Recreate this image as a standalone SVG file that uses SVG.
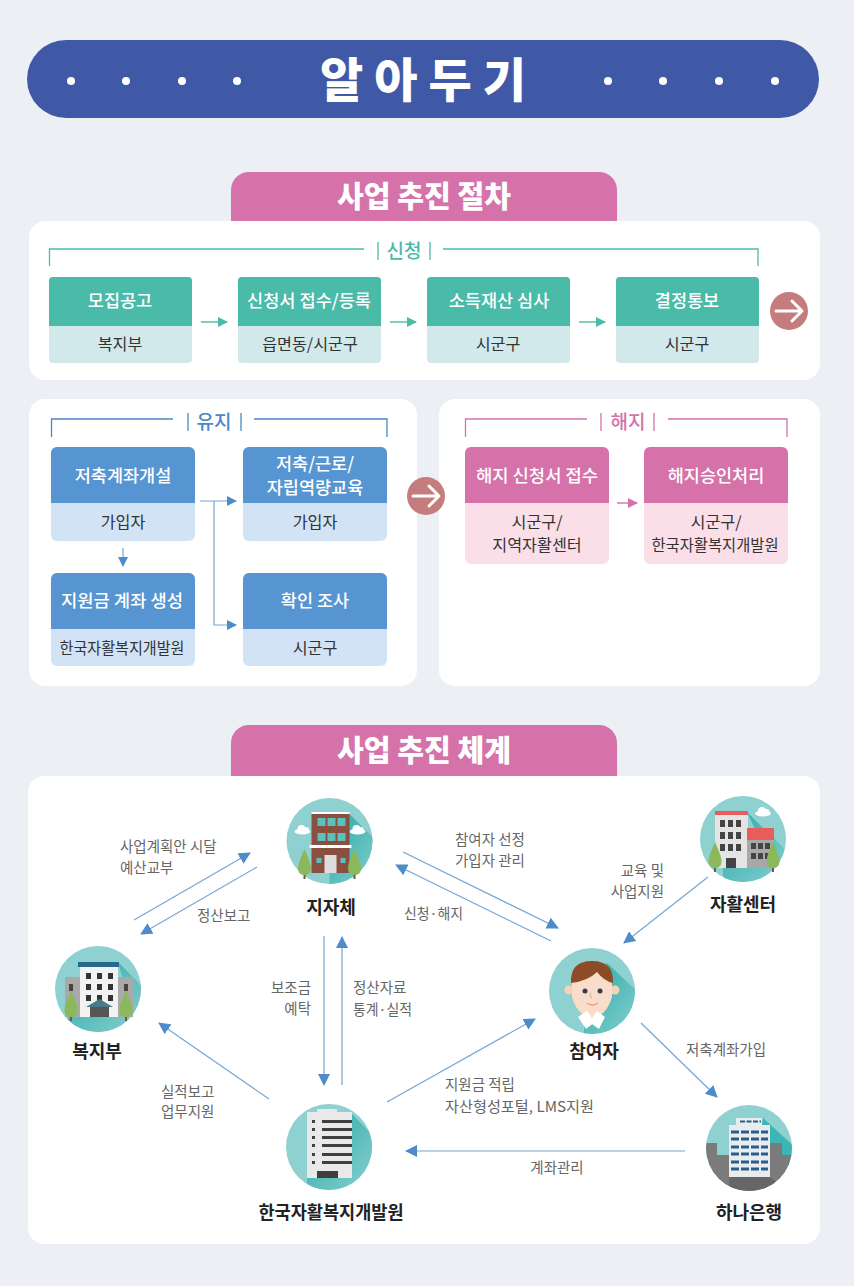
<svg xmlns="http://www.w3.org/2000/svg" width="854" height="1286" viewBox="0 0 854 1286">
<style>
text{font-family:"Noto Sans CJK KR","Noto Sans",sans-serif;text-anchor:middle}
.panel{fill:#fff}
.tab{fill:#d472a9}
.tabt{font-size:29.500px;font-weight:900;fill:#fff}
.head{font-size:17.500px;font-weight:500;fill:#fff}
.sub{font-size:16.200px;fill:#333}
.brk{fill:none;stroke-width:1.3}
.bt{font-size:19px;font-weight:500}
.lab{font-size:14.500px;fill:#666;text-anchor:start}
.labe{font-size:14.500px;fill:#666;text-anchor:end}
.labm{font-size:14.500px;fill:#666}
.name{font-size:18px;font-weight:700;fill:#222}
.c{fill:#8fd0d1}
.go{fill:#c47d7c}
.goa{fill:none;stroke:#fff;stroke-width:3;stroke-linecap:round;stroke-linejoin:round}
.dl{stroke:#74a5d6;stroke-width:1.200;fill:none}
.tr{fill:#8cb85c}
.trk{fill:#6b5a48}
</style>
<defs>
<marker id="mb" viewBox="0 0 12 12" refX="11" refY="6" markerWidth="12" markerHeight="12" markerUnits="userSpaceOnUse" orient="auto"><path d="M0 0L12 6L0 12z" fill="#4d8cc9"/></marker>
<marker id="mbs" viewBox="0 0 10 10" refX="9" refY="5" markerWidth="10" markerHeight="10" markerUnits="userSpaceOnUse" orient="auto"><path d="M0 0L10 5L0 10z" fill="#4d8cc9"/></marker>
<marker id="mt" viewBox="0 0 10 10" refX="9" refY="5" markerWidth="10" markerHeight="10" markerUnits="userSpaceOnUse" orient="auto"><path d="M0 0L10 5L0 10z" fill="#4abaa9"/></marker>
<marker id="mp" viewBox="0 0 10 10" refX="9" refY="5" markerWidth="10" markerHeight="10" markerUnits="userSpaceOnUse" orient="auto"><path d="M0 0L10 5L0 10z" fill="#d472a9"/></marker>
<linearGradient id="sh" x1="0" y1="0" x2="1" y2="1"><stop offset="0" stop-color="#27aaa8"/><stop offset="1" stop-color="#a0d8d8"/></linearGradient>
<clipPath id="cc"><circle r="43"/></clipPath>
<g id="tree"><rect x="-1" y="4" width="2" height="14" class="trk"/><path d="M0 -12Q7 3 6.500 8Q6 14 0 14Q-6 14 -6.500 8Q-7 3 0 -12z" class="tr"/></g>
<g id="cloud"><ellipse cx="0" cy="1.500" rx="8" ry="3" fill="#fff"/><circle cx="-1" cy="-1" r="4" fill="#fff"/><circle cx="3.500" cy="0" r="3" fill="#fff"/></g>
</defs>
<rect width="854" height="1286" fill="#ecf0f4"/>

<g id="banner">
<rect x="27" y="40" width="792" height="78" rx="39" fill="#4059a6"/>
<g fill="#fff"><circle cx="71" cy="81" r="4"/><circle cx="126" cy="81" r="4"/><circle cx="182" cy="81" r="4"/><circle cx="237" cy="81" r="4"/><circle cx="608" cy="81" r="4"/><circle cx="663" cy="81" r="4"/><circle cx="719" cy="81" r="4"/><circle cx="775" cy="81" r="4"/></g>
<text x="423" y="97" font-size="47" font-weight="900" fill="#fff" textLength="206" lengthAdjust="spacing">알 아 두 기</text>
</g>

<g id="tab-procedure"><path class="tab" d="M231 221V190a18 18 0 0 1 18-18H599a18 18 0 0 1 18 18V221z"/><text class="tabt" x="424" y="207" textLength="174" lengthAdjust="spacingAndGlyphs">사업 추진 절차</text></g>
<rect class="panel" x="29" y="221" width="791" height="159" rx="16"/>
<rect class="panel" x="29" y="399" width="388" height="287" rx="16"/>
<rect class="panel" x="439" y="399" width="381" height="287" rx="16"/>

<g id="bracket-apply" stroke="#4abaa9" fill="#4abaa9">
<path class="brk" d="M49.500 266V249H364M443 249H758V266M378 242V260M430 242V260"/>
<text class="bt" x="404" y="258" stroke="none">신청</text></g>
<g id="n-apply1"><rect x="49" y="277" width="143" height="86" rx="4" fill="#d2e9ec"/><path d="M49 326V281a4 4 0 0 1 4-4H188a4 4 0 0 1 4 4V326z" fill="#4abaa9"/><text class="head" x="120" y="307">모집공고</text><text class="sub" x="120" y="350">복지부</text></g>
<g id="n-apply2"><rect x="238" y="277" width="143" height="86" rx="4" fill="#d2e9ec"/><path d="M238 326V281a4 4 0 0 1 4-4H377a4 4 0 0 1 4 4V326z" fill="#4abaa9"/><text class="head" x="309" y="307" textLength="124" lengthAdjust="spacingAndGlyphs">신청서 접수/등록</text><text class="sub" x="310" y="350">읍면동/시군구</text></g>
<g id="n-apply3"><rect x="427" y="277" width="143" height="86" rx="4" fill="#d2e9ec"/><path d="M427 326V281a4 4 0 0 1 4-4H566a4 4 0 0 1 4 4V326z" fill="#4abaa9"/><text class="head" x="499" y="307">소득재산 심사</text><text class="sub" x="498" y="350">시군구</text></g>
<g id="n-apply4"><rect x="616" y="277" width="143" height="86" rx="4" fill="#d2e9ec"/><path d="M616 326V281a4 4 0 0 1 4-4H755a4 4 0 0 1 4 4V326z" fill="#4abaa9"/><text class="head" x="687" y="307">결정통보</text><text class="sub" x="687" y="350">시군구</text></g>
<g id="go1"><circle class="go" cx="789" cy="311" r="19"/><path class="goa" d="M776 311H801M792 301L802 311L792 321"/></g>

<g id="bracket-keep" stroke="#4a88c7" fill="#4a88c7">
<path class="brk" d="M51.500 437V419H173M254 419H387V437M188 413V431M241 413V431"/>
<text class="bt" x="214" y="429" stroke="none">유지</text></g>
<g id="n-keep1"><rect x="51" y="447" width="144" height="94" rx="6" fill="#d2e3f5"/><path d="M51 503V453a6 6 0 0 1 6-6H189a6 6 0 0 1 6 6V503z" fill="#5795d2"/><text class="head" x="123" y="482">저축계좌개설</text><text class="sub" x="123" y="528">가입자</text></g>
<g id="n-keep2"><rect x="243" y="447" width="144" height="94" rx="6" fill="#d2e3f5"/><path d="M243 503V453a6 6 0 0 1 6-6H381a6 6 0 0 1 6 6V503z" fill="#5795d2"/><text class="head" x="315" y="470">저축/근로/</text><text class="head" x="315" y="494">자립역량교육</text><text class="sub" x="315" y="528">가입자</text></g>
<g id="n-keep3"><rect x="51" y="573" width="144" height="93" rx="6" fill="#d2e3f5"/><path d="M51 629V579a6 6 0 0 1 6-6H189a6 6 0 0 1 6 6V629z" fill="#5795d2"/><text class="head" x="122" y="607" textLength="122" lengthAdjust="spacingAndGlyphs">지원금 계좌 생성</text><text class="sub" x="122" y="654" textLength="125" lengthAdjust="spacingAndGlyphs">한국자활복지개발원</text></g>
<g id="n-keep4"><rect x="243" y="573" width="144" height="93" rx="6" fill="#d2e3f5"/><path d="M243 629V579a6 6 0 0 1 6-6H381a6 6 0 0 1 6 6V629z" fill="#5795d2"/><text class="head" x="315" y="607">확인 조사</text><text class="sub" x="315" y="654">시군구</text></g>
<g id="go2"><circle class="go" cx="426" cy="496" r="19"/><path class="goa" d="M413 496H438M429 486L439 496L429 506"/></g>

<g id="bracket-end" stroke="#d472a9" fill="#d472a9">
<path class="brk" d="M465.500 437V419H587M668 419H787V437M601 413V431M654 413V431"/>
<text class="bt" x="628" y="429" stroke="none">해지</text></g>
<g id="n-end1"><rect x="465" y="447" width="144" height="117" rx="6" fill="#fadfe9"/><path d="M465 503V453a6 6 0 0 1 6-6H603a6 6 0 0 1 6 6V503z" fill="#d472a9"/><text class="head" x="537" y="482" textLength="122" lengthAdjust="spacingAndGlyphs">해지 신청서 접수</text><text class="sub" x="537" y="528">시군구/</text><text class="sub" x="537" y="551">지역자활센터</text></g>
<g id="n-end2"><rect x="644" y="447" width="144" height="117" rx="6" fill="#fadfe9"/><path d="M644 503V453a6 6 0 0 1 6-6H782a6 6 0 0 1 6 6V503z" fill="#d472a9"/><text class="head" x="716" y="482">해지승인처리</text><text class="sub" x="716" y="528">시군구/</text><text class="sub" x="715" y="551" textLength="127" lengthAdjust="spacingAndGlyphs">한국자활복지개발원</text></g>

<g id="tab-system"><path class="tab" d="M231 776V743a18 18 0 0 1 18-18H599a18 18 0 0 1 18 18V776z"/><text class="tabt" x="424" y="761" textLength="174" lengthAdjust="spacingAndGlyphs">사업 추진 체계</text></g>
<rect class="panel" x="28" y="776" width="792" height="468" rx="16"/>

<g id="connectors">
<path d="M201 322H227" stroke="#4abaa9" stroke-width="1.400" marker-end="url(#mt)"/>
<path d="M390 322H416" stroke="#4abaa9" stroke-width="1.400" marker-end="url(#mt)"/>
<path d="M579 322H605" stroke="#4abaa9" stroke-width="1.400" marker-end="url(#mt)"/>
<path class="dl" d="M123 548V566" marker-end="url(#mbs)"/>
<path class="dl" d="M200 501H236" marker-end="url(#mbs)"/>
<path class="dl" d="M214 501V625H236" marker-end="url(#mbs)"/>
<path d="M617 503H637" stroke="#d472a9" stroke-width="1.400" marker-end="url(#mp)"/>
<path class="dl" d="M134 920L250 853" marker-end="url(#mb)"/>
<path class="dl" d="M257 867L141 934" marker-end="url(#mb)"/>
<path class="dl" d="M324 936V1085" marker-end="url(#mb)"/>
<path class="dl" d="M342 1085V937" marker-end="url(#mb)"/>
<path class="dl" d="M269 1099L159 1023" marker-end="url(#mb)"/>
<path class="dl" d="M387 1102L535 1019" marker-end="url(#mb)"/>
<path class="dl" d="M403 852L558 928" marker-end="url(#mb)"/>
<path class="dl" d="M551 941L396 865" marker-end="url(#mb)"/>
<path class="dl" d="M708 877L624 943" marker-end="url(#mb)"/>
<path class="dl" d="M641 1023L717 1097" marker-end="url(#mb)"/>
<path class="dl" d="M685 1151H406" marker-end="url(#mb)"/>
</g>

<g id="labels">
<text class="lab" x="120" y="852">사업계획안 시달</text><text class="lab" x="120" y="873">예산교부</text>
<text class="lab" x="197" y="921">정산보고</text>
<text class="labe" x="311" y="993">보조금</text><text class="labe" x="311" y="1014">예탁</text>
<text class="lab" x="353" y="993">정산자료</text><text class="lab" x="353" y="1015" textLength="59" lengthAdjust="spacingAndGlyphs">통계·실적</text>
<text class="lab" x="161" y="1097">실적보고</text><text class="lab" x="161" y="1117">업무지원</text>
<text class="lab" x="455" y="845">참여자 선정</text><text class="lab" x="455" y="866">가입자 관리</text>
<text class="lab" x="404" y="919" textLength="59" lengthAdjust="spacingAndGlyphs">신청·해지</text>
<text class="labe" x="664" y="876">교육 및</text><text class="labe" x="664" y="897">사업지원</text>
<text class="lab" x="686" y="1055">저축계좌가입</text>
<text class="lab" x="445" y="1090">지원금 적립</text><text class="lab" x="445" y="1112" textLength="149" lengthAdjust="spacingAndGlyphs">자산형성포털, LMS지원</text>
<text class="labm" x="557" y="1173">계좌관리</text>
</g>

<g id="n-local" transform="translate(329.500 841)">
<circle r="43" class="c"/>
<g clip-path="url(#cc)"><path d="M19 -28L60 13V60H0V32H19z" fill="url(#sh)"/></g>
<use href="#cloud" x="-27" y="-11"/><use href="#cloud" x="28" y="-11"/>
<rect x="-18" y="-29" width="38" height="2" fill="#fff"/>
<rect x="-18" y="-27" width="38" height="59" fill="#8a4f40"/>
<g fill="#5cc0bc"><rect x="-12" y="-23" width="8" height="8"/><rect x="-2" y="-23" width="8" height="8"/><rect x="8" y="-23" width="8" height="8"/><rect x="-12" y="-8" width="8" height="8"/><rect x="-2" y="-8" width="8" height="8"/><rect x="8" y="-8" width="8" height="8"/></g>
<rect x="-20" y="4" width="42" height="3" fill="#fff"/>
<rect x="-5" y="14" width="12" height="18" fill="#ddd"/>
<rect x="-13" y="17" width="5" height="5" fill="#5cc0bc"/><rect x="11" y="17" width="5" height="5" fill="#5cc0bc"/>
<use href="#tree" x="-25" y="20"/><use href="#tree" x="25" y="20"/>
</g>
<text class="name" x="331" y="914">지자체</text>

<g id="n-ministry" transform="translate(98 989)">
<circle r="43" class="c"/>
<g clip-path="url(#cc)"><path d="M20 -27L60 13V60H-30V28H35z" fill="url(#sh)"/></g>
<rect x="-33" y="-12" width="68" height="40" fill="#a9a9a9"/>
<rect x="-29" y="-5" width="4" height="7" fill="#444"/><rect x="26" y="-5" width="4" height="7" fill="#444"/>
<rect x="-18" y="-27" width="38" height="55" fill="#f2f2f2"/>
<rect x="-20" y="-27" width="41" height="5" fill="#26698c"/>
<g fill="#333"><rect x="-12" y="-16" width="5" height="6"/><rect x="-1" y="-16" width="5" height="6"/><rect x="10" y="-16" width="5" height="6"/><rect x="-12" y="-5" width="5" height="6"/><rect x="-1" y="-5" width="5" height="6"/><rect x="10" y="-5" width="5" height="6"/><rect x="-12" y="6" width="5" height="6"/><rect x="-1" y="6" width="5" height="6"/><rect x="10" y="6" width="5" height="6"/></g>
<rect x="-8" y="17" width="19" height="11" fill="#555"/><path d="M-12 18L1.500 10L15 18z" fill="#4a7a8c"/>
<use href="#tree" x="-27" y="14"/><use href="#tree" x="28" y="14"/>
</g>
<text class="name" x="97" y="1058">복지부</text>

<g id="n-kdi" transform="translate(329 1147)">
<circle r="43" class="c"/>
<g clip-path="url(#cc)"><path d="M23 -33L60 5V60H-22V31H23z" fill="url(#sh)"/></g>
<rect x="-22" y="-35" width="45" height="66" fill="#e9e9e9"/>
<rect x="-12" y="-38" width="20" height="3" fill="#e9e9e9"/>
<g fill="#3f3f3f"><rect x="-7" y="-27" width="30" height="3"/><rect x="-7" y="-19" width="30" height="3"/><rect x="-7" y="-11" width="30" height="3"/><rect x="-7" y="-3" width="30" height="3"/><rect x="-7" y="6" width="30" height="3"/><rect x="-7" y="14" width="30" height="3"/>
<rect x="-17" y="-27" width="3" height="3"/><rect x="-17" y="-19" width="3" height="3"/><rect x="-17" y="-11" width="3" height="3"/><rect x="-17" y="-3" width="3" height="3"/><rect x="-17" y="6" width="3" height="3"/><rect x="-17" y="14" width="3" height="3"/>
<rect x="-12" y="24" width="21" height="7"/></g>
</g>
<text class="name" x="331" y="1219" textLength="145" lengthAdjust="spacingAndGlyphs">한국자활복지개발원</text>

<g id="n-participant" transform="translate(592 991)">
<circle r="43" class="c"/>
<g clip-path="url(#cc)"><path d="M15 -28L60 14V60H-8V34z" fill="url(#sh)"/></g>
<circle cx="-23" cy="-1" r="4.500" fill="#f7d2b8"/><circle cx="23" cy="-1" r="4.500" fill="#f7d2b8"/>
<path d="M-20 -8Q-20 -28 0 -28Q20 -28 20 -8V6Q14 26 0 26Q-14 26 -20 6z" fill="#fadcca"/>
<path d="M-21 -8Q-22 -30 0 -30Q22 -30 21 -8Q12 -10 5 -19Q-4 -10 -21 -8z" fill="#8d4c27"/>
<circle cx="-7" cy="0" r="2.500" fill="#2d3d55"/><circle cx="8" cy="0" r="2.500" fill="#2d3d55"/>
<path d="M-1 2Q-3 6 0 7" fill="none" stroke="#dba98c" stroke-width="1"/>
<path d="M-5 12Q0 16 6 12" fill="none" stroke="#e89f76" stroke-width="1.300"/>
<path d="M-14 26L-5 20L3 31L-6 38z" fill="#fff"/><path d="M13 26L5 20L-3 31L7 38z" fill="#fff"/>
</g>
<text class="name" x="594" y="1058">참여자</text>

<g id="n-center" transform="translate(743 839)">
<circle r="43" class="c"/>
<g clip-path="url(#cc)"><path d="M4 -27L60 28V60H-20V29H30z" fill="url(#sh)"/></g>
<use href="#cloud" x="20" y="-27"/>
<rect x="-28" y="-27" width="33" height="56" fill="#e4e4e4"/>
<rect x="-28" y="-28" width="33" height="4" fill="#e85c5c"/>
<rect x="4" y="-11" width="27" height="40" fill="#a8a8a8"/>
<rect x="4" y="-11" width="27" height="12" fill="#e85c5c"/>
<g fill="#444"><rect x="-23" y="-19" width="5" height="7"/><rect x="-15" y="-19" width="5" height="7"/><rect x="-7" y="-19" width="5" height="7"/><rect x="-23" y="-7" width="5" height="7"/><rect x="-15" y="-7" width="5" height="7"/><rect x="-7" y="-7" width="5" height="7"/><rect x="-23" y="5" width="5" height="7"/><rect x="-15" y="5" width="5" height="7"/><rect x="-7" y="5" width="5" height="7"/><rect x="-17" y="19" width="10" height="10"/>
<rect x="8" y="4" width="5" height="6"/><rect x="15" y="4" width="5" height="6"/><rect x="22" y="4" width="5" height="6"/><rect x="8" y="14" width="5" height="6"/><rect x="15" y="14" width="5" height="6"/><rect x="22" y="14" width="5" height="6"/></g>
<use href="#tree" x="-28" y="15"/><use href="#tree" x="30" y="15"/>
</g>
<text class="name" x="743" y="911">자활센터</text>

<g id="n-bank" transform="translate(749 1148)">
<circle r="43" class="c"/>
<g clip-path="url(#cc)">
<path d="M14 -30L60 12V60H0z" fill="#3cb6b4"/>
<path d="M-60 -5H-32V7H-20V-5H21V-5H33V7H60V60H-60z" fill="#7b7b7b"/>
<path d="M21 29L60 60H-20V29z" fill="#666"/>
</g>
<rect x="-13" y="-30" width="26" height="8" fill="#e8ecef"/>
<rect x="-20" y="-23" width="41" height="52" fill="#e8ecef"/>
<g fill="none" stroke="#2a5d8c" stroke-width="3" stroke-dasharray="8 2"><path d="M-9 -26.500H12" stroke-width="2" stroke-dasharray="5 1.500"/><path d="M-18 -16H19M-18 -9H19M-18 -1H19M-18 6H19M-18 14H19M-18 21H19"/></g>
</g>
<text class="name" x="749" y="1219">하나은행</text>
</svg>
